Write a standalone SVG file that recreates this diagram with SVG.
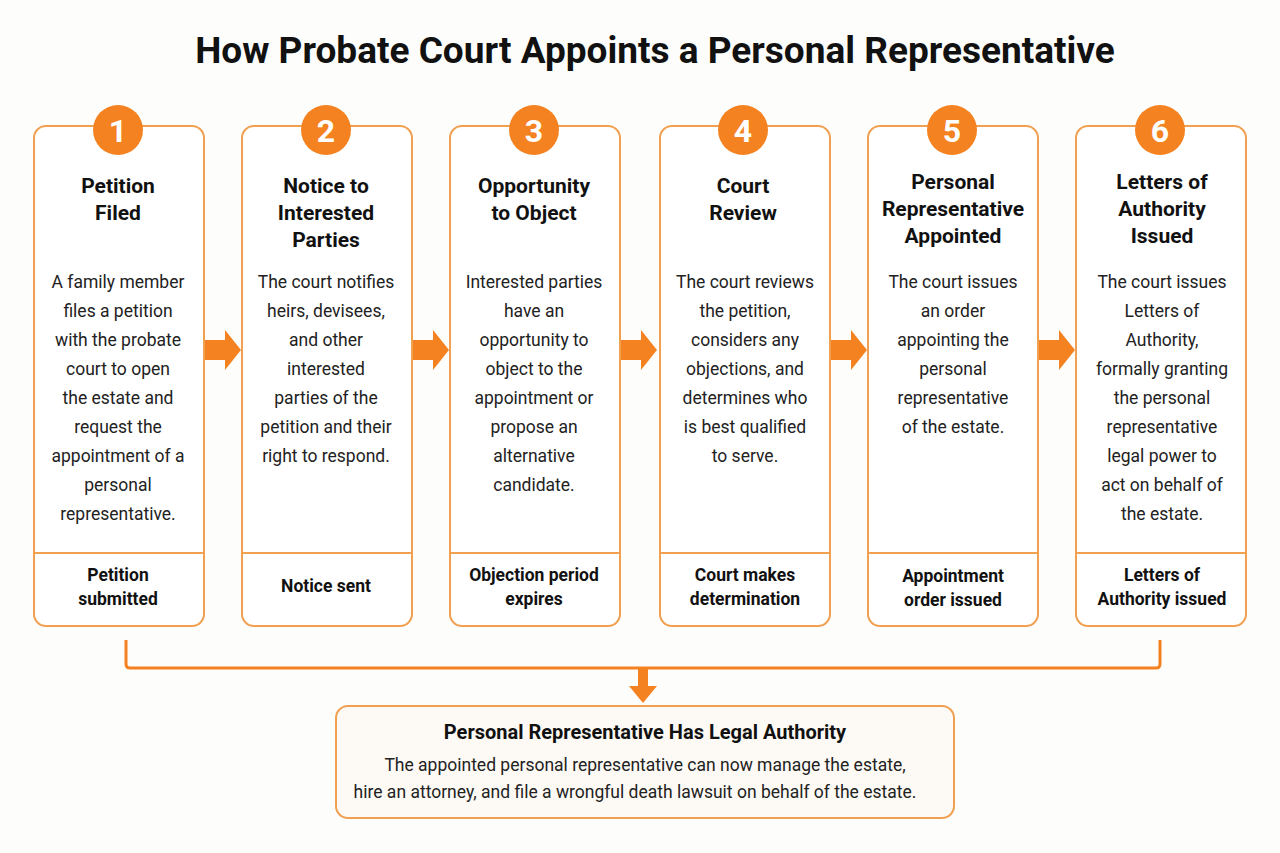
<svg xmlns="http://www.w3.org/2000/svg" width="1280" height="853" viewBox="0 0 1280 853">
<style>
.box{fill:#fff;stroke:#f0a050;stroke-width:2}
.div{stroke:#f0a050;stroke-width:2}
.num{fill:#f58220}
.nt{font:bold 32px Roboto,sans-serif;fill:#fff;text-anchor:middle}
.t{font:bold 21px Roboto,sans-serif;fill:#111;text-anchor:middle}
.b{font:17.5px Roboto,sans-serif;fill:#222;text-anchor:middle}
.f{font:bold 17.5px Roboto,sans-serif;fill:#111;text-anchor:middle}
.arr{fill:#f58220}
</style>
<rect width="1280" height="853" fill="#fdfdfc"/>
<text x="655" y="63" style="font:bold 37px Roboto,sans-serif;fill:#111;text-anchor:middle">How Probate Court Appoints a Personal Representative</text>
<g id="connectors">
<path d="M205 340h20v-10l16 20-16 20v-10h-20z" class="arr"/>
<path d="M413 340h20v-10l16 20-16 20v-10h-20z" class="arr"/>
<path d="M621 340h20v-10l16 20-16 20v-10h-20z" class="arr"/>
<path d="M831 340h20v-10l16 20-16 20v-10h-20z" class="arr"/>
<path d="M1039 340h20v-10l16 20-16 20v-10h-20z" class="arr"/>
<path d="M126 640v24q0 4 4 4h1026q4 0 4-4v-24" fill="none" stroke="#f58220" stroke-width="3"/>
<path d="M638 668h10v18h9l-14 17-14-17h9z" class="arr"/>
</g>
<g id="n1"><rect class="box" x="34" y="126" width="170" height="500" rx="12"/><line class="div" x1="34" y1="553" x2="204" y2="553"/><circle class="num" cx="118" cy="130" r="25"/><text class="nt" x="118" y="142">1</text>
<text class="t" x="118" y="193">Petition</text><text class="t" x="118" y="220">Filed</text>
<text class="b"><tspan x="118" y="288">A family member</tspan><tspan x="118" y="317">files a petition</tspan><tspan x="118" y="346">with the probate</tspan><tspan x="118" y="375">court to open</tspan><tspan x="118" y="404">the estate and</tspan><tspan x="118" y="433">request the</tspan><tspan x="118" y="462">appointment of a</tspan><tspan x="118" y="491">personal</tspan><tspan x="118" y="520">representative.</tspan></text>
<text class="f"><tspan x="118" y="581">Petition</tspan><tspan x="118" y="605">submitted</tspan></text></g>
<g id="n2"><rect class="box" x="242" y="126" width="170" height="500" rx="12"/><line class="div" x1="242" y1="553" x2="412" y2="553"/><circle class="num" cx="326" cy="130" r="25"/><text class="nt" x="326" y="142">2</text>
<text class="t" x="326" y="193">Notice to</text><text class="t" x="326" y="220">Interested</text><text class="t" x="326" y="247">Parties</text>
<text class="b"><tspan x="326" y="288">The court notifies</tspan><tspan x="326" y="317">heirs, devisees,</tspan><tspan x="326" y="346">and other</tspan><tspan x="326" y="375">interested</tspan><tspan x="326" y="404">parties of the</tspan><tspan x="326" y="433">petition and their</tspan><tspan x="326" y="462">right to respond.</tspan></text>
<text class="f" x="326" y="592">Notice sent</text></g>
<g id="n3"><rect class="box" x="450" y="126" width="170" height="500" rx="12"/><line class="div" x1="450" y1="553" x2="620" y2="553"/><circle class="num" cx="534" cy="130" r="25"/><text class="nt" x="534" y="142">3</text>
<text class="t" x="534" y="193">Opportunity</text><text class="t" x="534" y="220">to Object</text>
<text class="b"><tspan x="534" y="288">Interested parties</tspan><tspan x="534" y="317">have an</tspan><tspan x="534" y="346">opportunity to</tspan><tspan x="534" y="375">object to the</tspan><tspan x="534" y="404">appointment or</tspan><tspan x="534" y="433">propose an</tspan><tspan x="534" y="462">alternative</tspan><tspan x="534" y="491">candidate.</tspan></text>
<text class="f"><tspan x="534" y="581">Objection period</tspan><tspan x="534" y="605">expires</tspan></text></g>
<g id="n4"><rect class="box" x="660" y="126" width="170" height="500" rx="12"/><line class="div" x1="660" y1="553" x2="830" y2="553"/><circle class="num" cx="743" cy="130" r="25"/><text class="nt" x="743" y="142">4</text>
<text class="t" x="743" y="193">Court</text><text class="t" x="743" y="220">Review</text>
<text class="b"><tspan x="745" y="288">The court reviews</tspan><tspan x="745" y="317">the petition,</tspan><tspan x="745" y="346">considers any</tspan><tspan x="745" y="375">objections, and</tspan><tspan x="745" y="404">determines who</tspan><tspan x="745" y="433">is best qualified</tspan><tspan x="745" y="462">to serve.</tspan></text>
<text class="f"><tspan x="745" y="581">Court makes</tspan><tspan x="745" y="605">determination</tspan></text></g>
<g id="n5"><rect class="box" x="868" y="126" width="170" height="500" rx="12"/><line class="div" x1="868" y1="553" x2="1038" y2="553"/><circle class="num" cx="952" cy="130" r="25"/><text class="nt" x="952" y="142">5</text>
<text class="t" x="953" y="189">Personal</text><text class="t" x="953" y="216">Representative</text><text class="t" x="953" y="243">Appointed</text>
<text class="b"><tspan x="953" y="288">The court issues</tspan><tspan x="953" y="317">an order</tspan><tspan x="953" y="346">appointing the</tspan><tspan x="953" y="375">personal</tspan><tspan x="953" y="404">representative</tspan><tspan x="953" y="433">of the estate.</tspan></text>
<text class="f"><tspan x="953" y="582">Appointment</tspan><tspan x="953" y="606">order issued</tspan></text></g>
<g id="n6"><rect class="box" x="1076" y="126" width="170" height="500" rx="12"/><line class="div" x1="1076" y1="553" x2="1246" y2="553"/><circle class="num" cx="1160" cy="130" r="25"/><text class="nt" x="1160" y="142">6</text>
<text class="t" x="1162" y="189">Letters of</text><text class="t" x="1162" y="216">Authority</text><text class="t" x="1162" y="243">Issued</text>
<text class="b"><tspan x="1162" y="288">The court issues</tspan><tspan x="1162" y="317">Letters of</tspan><tspan x="1162" y="346">Authority,</tspan><tspan x="1162" y="375">formally granting</tspan><tspan x="1162" y="404">the personal</tspan><tspan x="1162" y="433">representative</tspan><tspan x="1162" y="462">legal power to</tspan><tspan x="1162" y="491">act on behalf of</tspan><tspan x="1162" y="520">the estate.</tspan></text>
<text class="f"><tspan x="1162" y="581">Letters of</tspan><tspan x="1162" y="605">Authority issued</tspan></text></g>
<g id="result"><rect x="336" y="706" width="618" height="112" rx="12" fill="#fdfaf5" stroke="#f0a050" stroke-width="2"/>
<text x="645" y="739" style="font:bold 20px Roboto,sans-serif;fill:#111;text-anchor:middle">Personal Representative Has Legal Authority</text>
<text class="b"><tspan x="645" y="771">The appointed personal representative can now manage the estate,</tspan><tspan x="635" y="798">hire an attorney, and file a wrongful death lawsuit on behalf of the estate.</tspan></text></g>
</svg>
